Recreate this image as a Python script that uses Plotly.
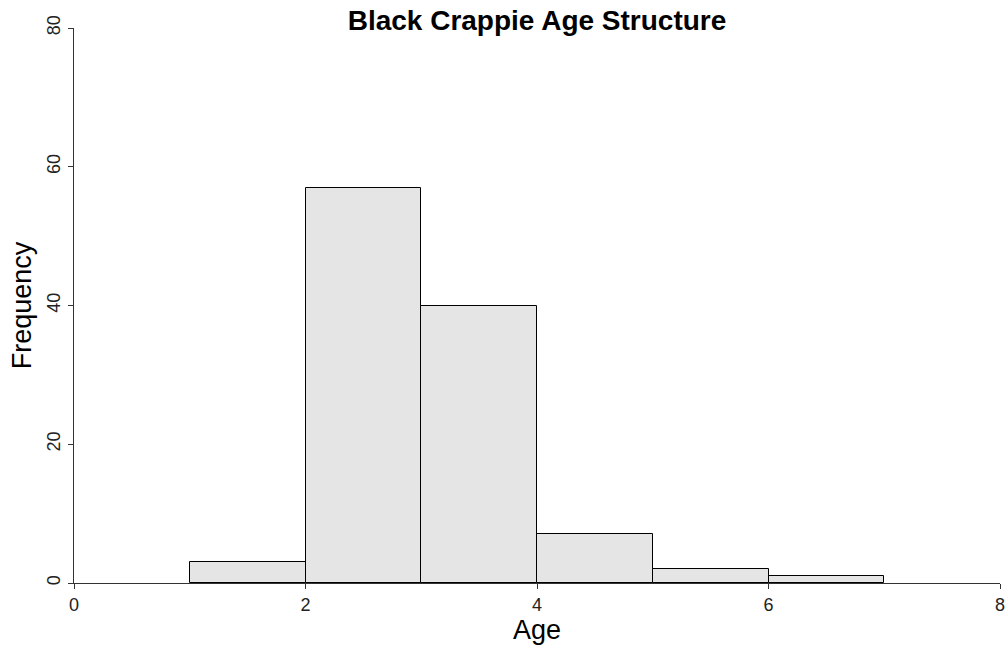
import plotly.graph_objects as go

bin_left = [1, 2, 3, 4, 5, 6]
bin_width = 1
counts = [3, 57, 40, 7, 2, 1]
x_ticks = [0, 2, 4, 6, 8]
y_ticks = [0, 20, 40, 60, 80]

fig = go.Figure(go.Bar(
    x=bin_left, y=counts, width=[bin_width] * len(bin_left), offset=0,
    marker=dict(color="#e5e5e5", line=dict(color="#000000", width=1)),
    hoverinfo="x+y",
))

axis_font = dict(family="Liberation Sans, Arial, sans-serif", size=18, color="#222222")
title_font = dict(family="Liberation Sans, Arial, sans-serif", size=27, color="#000000")

W, H = 1005, 649
fig.update_layout(
    width=W, height=H,
    margin=dict(l=74, r=5, t=28, b=66),
    plot_bgcolor="white", paper_bgcolor="white",
    showlegend=False, bargap=0,
    title=dict(text="<b>Black Crappie Age Structure</b>", x=0.5, xref="paper",
               y=1 - 20 / H, yref="container", yanchor="middle", xanchor="center",
               font=dict(family="Liberation Sans, Arial, sans-serif", size=28, color="#000000")),
    xaxis=dict(range=[0, 8], tickvals=x_ticks, ticktext=[str(v) for v in x_ticks],
               automargin=False, ticklabeloverflow="allow",
               showgrid=False, zeroline=False, showline=True, linecolor="#333333", linewidth=1.2,
               ticks="outside", ticklen=5, tickcolor="#333333", tickwidth=1.2,
               tickfont=axis_font, ticklabelstandoff=0,
               title=dict(text="Age", font=title_font, standoff=6)),
    yaxis=dict(range=[0, 80], tickvals=y_ticks, ticktext=[str(v) for v in y_ticks],
               automargin=False, ticklabeloverflow="allow",
               showgrid=False, zeroline=False, showline=True, linecolor="#333333", linewidth=1.2,
               ticks="outside", ticklen=5, tickcolor="#333333", tickwidth=1.2,
               tickangle=-90, tickfont=axis_font, ticklabelstandoff=1,
               title=dict(text="Frequency", font=title_font, standoff=4)),
)

fig.write_html(
    "out.html",
    config={"displayModeBar": False},
    post_script="document.body.style.margin='0';document.body.style.overflow='hidden';",
)
